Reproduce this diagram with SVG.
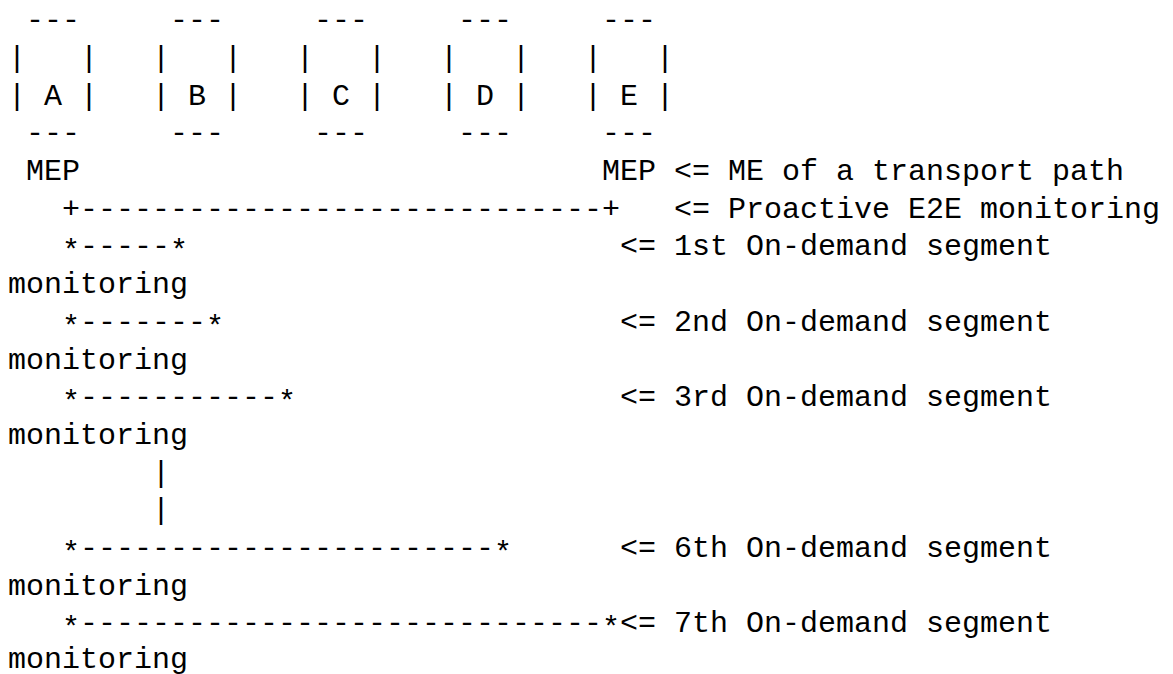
<svg xmlns="http://www.w3.org/2000/svg" width="1173" height="674" viewBox="0 0 1173 674">
<style>
text{font-family:"Liberation Mono","DejaVu Sans Mono",monospace;font-size:30px;fill:#000;white-space:pre}
</style>
<rect width="1173" height="674" fill="#fff"/>
<g id="node-A">
<text x="26" y="29.2">---</text>
<text x="8" y="66.9">|   |</text>
<text x="8" y="104.6">| A |</text>
<text x="26" y="142.3">---</text>
</g>
<g id="node-B">
<text x="170" y="29.2">---</text>
<text x="152" y="66.9">|   |</text>
<text x="152" y="104.6">| B |</text>
<text x="170" y="142.3">---</text>
</g>
<g id="node-C">
<text x="314" y="29.2">---</text>
<text x="296" y="66.9">|   |</text>
<text x="296" y="104.6">| C |</text>
<text x="314" y="142.3">---</text>
</g>
<g id="node-D">
<text x="458" y="29.2">---</text>
<text x="440" y="66.9">|   |</text>
<text x="440" y="104.6">| D |</text>
<text x="458" y="142.3">---</text>
</g>
<g id="node-E">
<text x="602" y="29.2">---</text>
<text x="584" y="66.9">|   |</text>
<text x="584" y="104.6">| E |</text>
<text x="602" y="142.3">---</text>
</g>
<g id="connectors">
<text x="62" y="217.7">+-----------------------------+</text>
<text x="62" y="255.4"><tspan dy="5">*</tspan><tspan dy="-5">-----</tspan><tspan dy="5">*</tspan></text>
<text x="62" y="330.8"><tspan dy="5">*</tspan><tspan dy="-5">-------</tspan><tspan dy="5">*</tspan></text>
<text x="62" y="406.2"><tspan dy="5">*</tspan><tspan dy="-5">-----------</tspan><tspan dy="5">*</tspan></text>
<text x="152" y="481.6">|</text>
<text x="152" y="519.3">|</text>
<text x="62" y="557"><tspan dy="5">*</tspan><tspan dy="-5">-----------------------</tspan><tspan dy="5">*</tspan></text>
<text x="62" y="632.4"><tspan dy="5">*</tspan><tspan dy="-5">-----------------------------</tspan><tspan dy="5">*</tspan></text>
</g>
<g id="labels">
<text x="26" y="180">MEP</text>
<text x="602" y="180">MEP</text>
<text x="674" y="180">&lt;= ME of a transport path</text>
<text x="674" y="217.7">&lt;= Proactive E2E monitoring</text>
<text x="620" y="255.4">&lt;= 1st On-demand segment</text>
<text x="8" y="293.1">monitoring</text>
<text x="620" y="330.8">&lt;= 2nd On-demand segment</text>
<text x="8" y="368.5">monitoring</text>
<text x="620" y="406.2">&lt;= 3rd On-demand segment</text>
<text x="8" y="443.9">monitoring</text>
<text x="620" y="557">&lt;= 6th On-demand segment</text>
<text x="8" y="594.7">monitoring</text>
<text x="620" y="632.4">&lt;= 7th On-demand segment</text>
<text x="8" y="668">monitoring</text>
</g>
</svg>
